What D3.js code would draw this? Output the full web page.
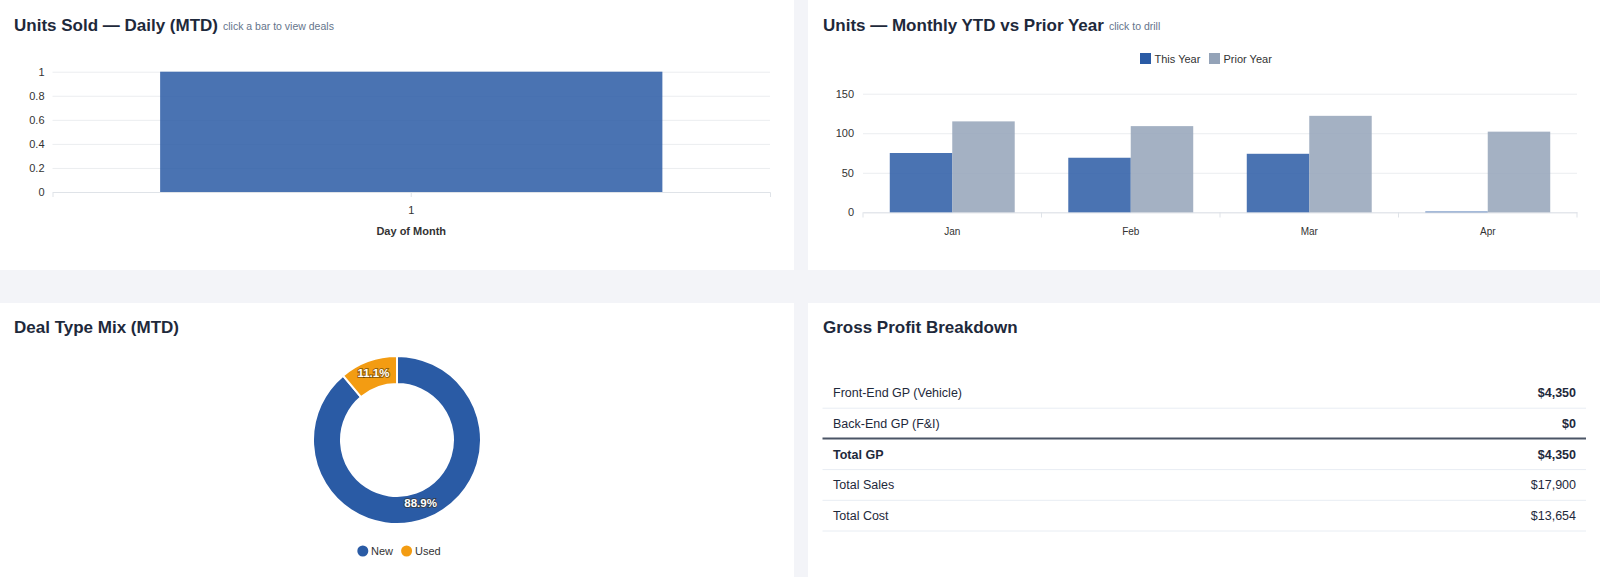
<!DOCTYPE html>
<html>
<head>
<meta charset="utf-8">
<script src="https://cdn.jsdelivr.net/npm/d3@7"></script>
<style>
  html, body { margin: 0; padding: 0; background: #f3f4f8; }
  svg { display: block; font-family: "Liberation Sans", Arial, Helvetica, sans-serif; }
</style>
</head>
<body>
<svg id="c" width="1600" height="577"></svg>
<script>
// ---------- DATA ----------
const dailyDays = ["1"];
const dailyUnits = [1];
const dailyTicks = [0, 0.2, 0.4, 0.6, 0.8, 1];

const months = ["Jan", "Feb", "Mar", "Apr"];
const seriesNames = ["This Year", "Prior Year"];
const thisYear = [75, 69, 74, 1];
const priorYear = [115, 109, 122, 102];
const monthlyTicks = [0, 50, 100, 150];

const dealTypes = ["New", "Used"];
const dealShares = [88.9, 11.1];

const gpLabels = ["Front-End GP (Vehicle)", "Back-End GP (F&I)", "Total GP", "Total Sales", "Total Cost"];
const gpValues = ["$4,350", "$0", "$4,350", "$17,900", "$13,654"];
const gpBold = [true, true, true, false, false];

// ---------- STYLE ----------
const C = {
  title: "#1e293b", sub: "#64748b", axis: "#333", grid: "#ebedf0", axisLine: "#dfe3e8",
  blue: "#2a5ba5", gray: "#94a3b8", orange: "#f39c12"
};

const svg = d3.select("#c");

// panels
const panels = [[0, 0, 794, 270], [808, 0, 792, 270], [0, 303, 794, 274], [808, 303, 792, 274]];
svg.selectAll("rect.panel").data(panels).join("rect").attr("class", "panel")
  .attr("x", d => d[0]).attr("y", d => d[1]).attr("width", d => d[2]).attr("height", d => d[3])
  .attr("fill", "#fff");

function title(x, y, t, sub) {
  const tt = svg.append("text").attr("x", x).attr("y", y).attr("fill", C.title)
    .attr("font-size", 17).attr("font-weight", "bold").text(t);
  if (sub) {
    const w = tt.node().getComputedTextLength();
    svg.append("text").attr("x", x + w + 5).attr("y", y - 0.5).attr("fill", C.sub)
      .attr("font-size", 10.5).text(sub);
  }
}
title(14, 30.5, "Units Sold — Daily (MTD)", "click a bar to view deals");
title(823, 30.5, "Units — Monthly YTD vs Prior Year", "click to drill");
title(14, 333, "Deal Type Mix (MTD)");
title(823, 333, "Gross Profit Breakdown");

// ---------- Chart 1: daily ----------
(function () {
  const g = svg.append("g");
  const x = d3.scaleBand().domain(dailyDays).range([52.5, 770]).padding(0);
  const y = d3.scaleLinear().domain([0, 1]).range([192, 71.7]);
  const ya = g.append("g").attr("transform", "translate(52.5,0)")
    .call(d3.axisLeft(y).tickValues(dailyTicks).tickSize(-(770 - 52.5)).tickPadding(8).tickFormat(d3.format("~g")));
  ya.select(".domain").remove();
  ya.selectAll(".tick line").attr("stroke", C.grid);
  ya.selectAll(".tick text").attr("fill", C.axis).attr("font-size", 11).attr("font-family", null);
  const xa = g.append("g").attr("transform", "translate(0,192)")
    .call(d3.axisBottom(x).tickSize(5).tickPadding(9));
  xa.select(".domain").attr("stroke", C.axisLine);
  xa.selectAll(".tick line").attr("stroke", C.axisLine);
  xa.selectAll(".tick text").attr("fill", C.axis).attr("font-size", 11).attr("font-family", null);
  const bw = x.bandwidth() * 0.7;
  g.selectAll("rect.bar").data(dailyDays).join("rect").attr("class", "bar")
    .attr("x", (d) => x(d) + (x.bandwidth() - bw) / 2)
    .attr("width", bw)
    .attr("y", (d, i) => y(dailyUnits[i]))
    .attr("height", (d, i) => y(0) - y(dailyUnits[i]))
    .attr("fill", C.blue).attr("fill-opacity", 0.85);
  g.append("text").attr("x", (52.5 + 770) / 2).attr("y", 235).attr("text-anchor", "middle")
    .attr("font-size", 11).attr("font-weight", "bold").attr("fill", C.axis).text("Day of Month");
})();

// ---------- Chart 2: monthly ----------
(function () {
  const g = svg.append("g");
  const x0 = d3.scaleBand().domain(months).range([863, 1577]).padding(0);
  const inner = x0.bandwidth() * 0.7;
  const x1 = d3.scaleBand().domain(seriesNames).range([0, inner]).padding(0);
  const y = d3.scaleLinear().domain([0, 150]).range([212.3, 93.7]);
  const ya = g.append("g").attr("transform", "translate(863,0)")
    .call(d3.axisLeft(y).tickValues(monthlyTicks).tickSize(-(1577 - 863)).tickPadding(9));
  ya.select(".domain").remove();
  ya.selectAll(".tick line").attr("stroke", C.grid);
  ya.selectAll(".tick text").attr("fill", C.axis).attr("font-size", 11).attr("font-family", null);
  const xa = g.append("g").attr("transform", "translate(0,212.3)")
    .call(d3.axisBottom(x0).tickSize(0).tickPadding(16));
  xa.select(".domain").attr("stroke", C.axisLine);
  xa.selectAll(".tick text").attr("fill", C.axis).attr("font-size", 10).attr("font-family", null);
  // boundary ticks
  const bounds = months.map(m => x0(m)).concat([1577]);
  g.selectAll("line.bt").data(bounds).join("line").attr("class", "bt")
    .attr("x1", d => d).attr("x2", d => d).attr("y1", 212.3).attr("y2", 217.5)
    .attr("stroke", C.axisLine);
  const vals = [thisYear, priorYear];
  const cols = [C.blue, C.gray];
  seriesNames.forEach((s, si) => {
    g.selectAll("rect.s" + si).data(months).join("rect").attr("class", "s" + si)
      .attr("x", m => x0(m) + (x0.bandwidth() - inner) / 2 + x1(s))
      .attr("width", x1.bandwidth())
      .attr("y", (m, i) => y(vals[si][i]))
      .attr("height", (m, i) => y(0) - y(vals[si][i]))
      .attr("fill", cols[si]).attr("fill-opacity", 0.85);
  });
  // legend
  const lx = [1140, 1209];
  seriesNames.forEach((s, i) => {
    g.append("rect").attr("x", lx[i]).attr("y", 53).attr("width", 11).attr("height", 11).attr("fill", cols[i]);
    g.append("text").attr("x", lx[i] + 14.5).attr("y", 62.5).attr("font-size", 11).attr("fill", C.axis).text(s);
  });
})();

// ---------- Chart 3: donut ----------
(function () {
  const cx = 397, cy = 440;
  const g = svg.append("g").attr("transform", `translate(${cx},${cy})`);
  const pie = d3.pie().sort(null).value(d => d)(dealShares);
  const arc = d3.arc().innerRadius(56).outerRadius(84);
  const cols = [C.blue, C.orange];
  g.selectAll("path").data(pie).join("path").attr("d", arc)
    .attr("fill", (d, i) => cols[i]).attr("stroke", "#fff").attr("stroke-width", 2);
  const labArc = d3.arc().innerRadius(62).outerRadius(76);
  g.selectAll("text").data(pie).join("text")
    .attr("transform", d => { const c = labArc.centroid(d); return `translate(${c[0]},${c[1] - 2})`; })
    .attr("text-anchor", "middle").attr("dominant-baseline", "central")
    .attr("font-size", 11.5).attr("font-weight", "bold").attr("fill", "#fff")
    .attr("stroke", "rgba(60,40,0,0.5)").attr("stroke-width", 2).attr("paint-order", "stroke")
    .text((d, i) => dealShares[i].toFixed(1) + "%");
  const lg = [[362.8, 371], [406.6, 415]];
  dealTypes.forEach((t, i) => {
    svg.append("circle").attr("cx", lg[i][0]).attr("cy", 551).attr("r", 5.5).attr("fill", cols[i]);
    svg.append("text").attr("x", lg[i][1]).attr("y", 555).attr("font-size", 11).attr("fill", C.axis).text(t);
  });
})();

// ---------- Table ----------
(function () {
  const y = d3.scaleBand().domain(gpLabels).range([377.5, 531]).padding(0);
  const g = svg.append("g");
  const rows = g.selectAll("g.row").data(gpLabels).join("g").attr("class", "row");
  rows.append("text").attr("x", 833).attr("y", d => y(d) + y.bandwidth() / 2 + 4.5)
    .attr("font-size", 12.5).attr("fill", C.title)
    .attr("font-weight", (d, i) => gpBold[i] && i === 2 ? "bold" : "normal").text(d => d);
  rows.append("text").attr("x", 1576).attr("y", d => y(d) + y.bandwidth() / 2 + 4.5)
    .attr("text-anchor", "end").attr("font-size", 12.5).attr("fill", C.title)
    .attr("font-weight", (d, i) => gpBold[i] ? "bold" : "normal").text((d, i) => gpValues[i]);
  rows.append("line").attr("x1", 822.5).attr("x2", 1586)
    .attr("y1", d => y(d) + y.bandwidth() - (d === gpLabels[1] ? 0.5 : 0))
    .attr("y2", d => y(d) + y.bandwidth() - (d === gpLabels[1] ? 0.5 : 0))
    .attr("stroke", d => d === gpLabels[1] ? "#4b5566" : "#e8edf3")
    .attr("stroke-width", d => d === gpLabels[1] ? 2 : 1);
})();
</script>
</body>
</html>
